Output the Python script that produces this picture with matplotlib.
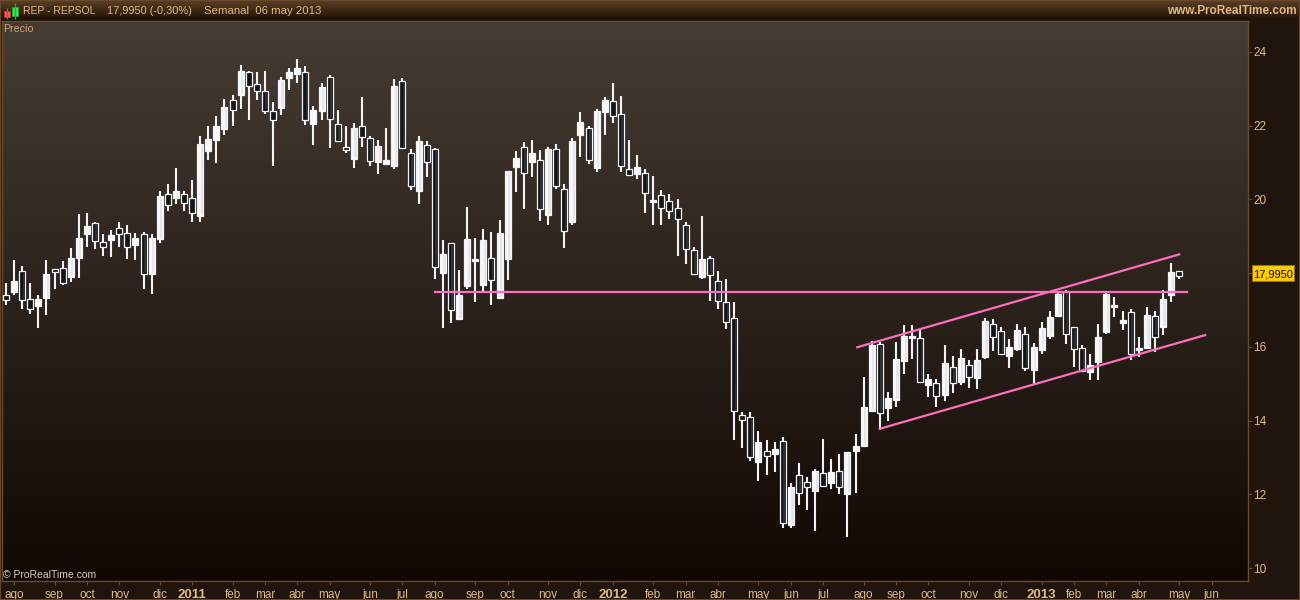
import numpy as np
import matplotlib
matplotlib.use("Agg")
import matplotlib.pyplot as plt
from matplotlib.colors import LinearSegmentedColormap
from matplotlib.patches import Rectangle

plt.rcParams["font.family"] = ["Liberation Sans", "DejaVu Sans"]

# --- Data (weekly candles) ---
opens = [17.40, 17.49, 18.05, 17.29, 17.11, 17.33, 18.10, 18.13, 17.90, 18.42,
         19.06, 19.35, 18.84, 18.90, 19.22, 19.08, 18.76, 19.05, 17.98, 18.93,
         20.16, 20.04, 20.14, 20.03, 19.55, 21.31, 21.61, 21.91, 22.69, 22.83,
         23.47, 23.12, 22.93, 22.39, 22.48, 23.29, 23.40, 23.45, 22.05, 22.40,
         23.31, 22.04, 21.41, 21.11, 21.98, 21.66, 21.02, 20.96, 20.91, 23.20,
         21.25, 20.23, 21.49, 21.36, 18.01, 18.81, 16.75, 17.65, 18.33, 17.68,
         18.40, 17.32, 18.38, 20.88, 21.41, 21.01, 21.06, 19.58, 21.38, 20.27,
         19.39, 21.75, 21.95, 20.85, 22.37, 22.66, 22.33, 20.82, 20.69, 20.73,
         19.93, 20.11, 19.97, 19.78, 19.32, 18.62, 17.89, 18.40, 17.80, 17.21,
         16.78, 14.15, 14.09, 12.88, 13.17, 13.10, 13.44, 11.17, 12.52, 12.33,
         12.09, 12.57, 12.31, 12.63, 12.01, 13.18, 13.31, 14.26, 16.07, 14.34,
         14.56, 15.62, 16.24, 16.23, 14.97, 15.01, 14.69, 15.45, 15.05, 15.50,
         15.16, 15.73, 16.61, 16.42, 15.75, 15.94, 16.34, 15.37, 15.92, 16.30,
         16.84, 17.49, 16.53, 15.96, 15.32, 15.59, 16.40, 17.08, 16.65, 16.96,
         15.92, 15.97, 16.83, 16.54, 17.41, 18.05]
highs = [17.72, 18.36, 18.19, 17.72, 17.41, 18.36, 18.10, 18.33, 18.68, 19.60,
         19.62, 19.39, 19.06, 19.17, 19.38, 19.31, 19.09, 19.13, 19.06, 20.23,
         20.42, 20.85, 20.23, 20.53, 21.72, 21.99, 22.26, 22.72, 22.83, 23.65,
         23.48, 23.46, 23.48, 22.64, 23.32, 23.56, 23.81, 23.62, 22.53, 23.15,
         23.38, 22.43, 21.99, 22.07, 22.78, 21.72, 21.61, 21.94, 23.27, 23.29,
         21.37, 21.72, 21.58, 21.39, 18.90, 18.83, 18.08, 19.79, 18.95, 19.20,
         19.12, 19.44, 20.77, 21.31, 21.56, 21.61, 21.34, 21.42, 21.50, 20.42,
         21.67, 22.37, 21.99, 22.45, 22.78, 23.16, 22.80, 21.61, 21.20, 20.82,
         20.63, 20.25, 20.15, 20.01, 19.39, 18.71, 19.55, 18.46, 18.06, 17.84,
         17.22, 14.24, 14.24, 13.72, 13.48, 13.42, 13.56, 12.31, 12.85, 12.47,
         12.69, 13.50, 12.96, 13.10, 13.15, 13.64, 15.19, 16.16, 16.14, 14.78,
         16.14, 16.59, 16.59, 16.46, 15.26, 15.13, 16.05, 15.75, 15.94, 15.64,
         15.94, 16.78, 16.76, 16.54, 16.21, 16.62, 16.54, 16.11, 16.68, 16.97,
         17.49, 17.54, 16.54, 16.05, 15.81, 16.62, 17.49, 17.35, 16.97, 17.03,
         16.27, 17.08, 16.97, 17.54, 18.28, 18.05]
lows = [17.14, 17.41, 17.03, 16.89, 16.51, 16.86, 17.57, 17.68, 17.76, 17.87,
        18.71, 18.65, 18.46, 18.44, 18.71, 18.38, 18.36, 17.57, 17.43, 18.82,
        19.69, 19.88, 19.69, 19.39, 19.39, 21.07, 20.99, 21.75, 21.99, 22.45,
        22.15, 22.70, 22.32, 20.91, 22.29, 22.97, 23.16, 22.02, 21.48, 22.15,
        21.39, 21.56, 21.27, 20.85, 21.42, 20.91, 20.69, 20.93, 20.83, 21.37,
        20.26, 19.88, 20.61, 17.84, 16.51, 16.65, 16.73, 17.57, 17.22, 17.50,
        17.13, 17.32, 17.81, 20.20, 19.74, 20.61, 19.41, 19.30, 20.28, 18.68,
        19.30, 21.15, 20.96, 20.74, 21.75, 22.07, 20.74, 20.67, 20.55, 19.63,
        19.30, 19.30, 19.47, 18.46, 18.25, 17.98, 17.84, 17.24, 17.03, 16.48,
        13.48, 13.26, 12.91, 12.36, 12.53, 12.61, 11.09, 11.09, 11.71, 11.58,
        11.01, 12.23, 12.15, 12.01, 10.85, 12.04, 13.29, 14.26, 13.75, 13.99,
        14.37, 15.26, 15.67, 15.06, 14.64, 14.37, 14.53, 14.75, 14.97, 14.88,
        14.86, 15.67, 15.89, 15.78, 15.43, 15.89, 15.35, 14.99, 15.81, 16.21,
        16.81, 16.08, 15.45, 15.32, 15.10, 15.10, 16.35, 16.81, 16.46, 15.64,
        15.73, 15.94, 15.86, 16.32, 17.22, 17.84]
closes = [17.28, 17.79, 17.26, 17.04, 17.30, 17.98, 18.04, 17.74, 18.41, 18.95,
          19.28, 18.88, 18.72, 19.03, 19.07, 18.72, 18.95, 17.99, 18.95, 20.09,
          19.86, 20.23, 19.91, 19.64, 21.50, 21.64, 21.99, 22.51, 22.43, 23.48,
          23.09, 22.95, 22.41, 22.16, 23.24, 23.46, 23.57, 22.16, 22.43, 23.05,
          22.19, 21.58, 21.35, 21.94, 21.70, 21.05, 21.45, 21.07, 23.08, 21.39,
          20.37, 21.58, 21.02, 18.17, 18.52, 17.01, 17.41, 18.93, 18.38, 18.90,
          17.82, 19.09, 20.77, 21.12, 20.71, 21.26, 19.73, 21.37, 20.37, 19.15,
          21.58, 22.10, 21.08, 22.40, 22.70, 22.27, 20.91, 20.67, 20.88, 20.18,
          19.98, 19.78, 19.69, 19.48, 18.66, 17.98, 18.38, 17.96, 17.25, 16.68,
          14.25, 14.03, 13.02, 13.42, 13.05, 13.23, 11.23, 12.20, 12.05, 12.21,
          12.64, 12.24, 12.61, 12.21, 13.15, 13.31, 14.37, 16.05, 14.22, 14.62,
          15.67, 16.30, 16.30, 15.06, 15.13, 14.68, 15.56, 15.03, 15.70, 15.17,
          15.64, 16.70, 16.28, 15.82, 16.00, 16.46, 15.44, 16.00, 16.51, 16.81,
          17.44, 16.36, 15.95, 15.35, 15.51, 16.27, 17.44, 17.14, 16.73, 15.81,
          15.97, 16.87, 16.28, 17.30, 18.03, 17.93]

# trend lines as (candle index, price)
support_x = [53.0, 146.0]
support_y = [17.49, 17.49]
upper_x = [105.2, 145.0]
upper_y = [15.99, 18.51]
lower_x = [108.0, 148.2]
lower_y = [13.78, 16.32]

price_ticks = [10, 12, 14, 16, 18, 20, 22, 24]
# the 18 label sits behind the last price box
price_labels = ["10", "12", "14", "16", "", "20", "22", "24"]
last_price = 17.995
date_pos = [1, 6, 10, 14, 19, 23, 28, 32, 36, 40, 45, 49, 53, 58, 62, 67, 71, 75,
            80, 84, 88, 93, 97, 101, 106, 110, 114, 119, 123, 128, 132, 136, 140,
            145, 149]
date_labels = ["ago", "sep", "oct", "nov", "dic", "2011", "feb", "mar", "abr", "may",
               "jun", "jul", "ago", "sep", "oct", "nov", "dic", "2012", "feb", "mar",
               "abr", "may", "jun", "jul", "ago", "sep", "oct", "nov", "dic", "2013",
               "feb", "mar", "abr", "may", "jun"]

# --- Colours ---
tan = "#e0b986"
frame = "#6a4a2c"
pink = "#ff6ebd"

W, H = 1300, 600


def px_box(x0, y0, x1, y1):
    # pixel box (y from the top) to figure coordinates
    return [x0 / W, 1 - y1 / H, (x1 - x0) / W, (y1 - y0) / H]


def gradient(ax, top, bottom):
    cmap = LinearSegmentedColormap.from_list("g", [top, bottom])
    ax.imshow(np.linspace(0, 1, 256).reshape(-1, 1), cmap=cmap, aspect="auto",
              extent=(0, 1, 0, 1), transform=ax.transAxes, zorder=0)


fig = plt.figure(figsize=(13, 6), dpi=100, facecolor="#1f150c")

# header bar
head = fig.add_axes(px_box(0, 0, W, 20))
gradient(head, "#5d4125", "#1e1006")
head.axis("off")

# --- Price panel ---
ax = fig.add_axes(px_box(2, 21, 1248, 581))
gradient(ax, "#463c33", "#110804")
ax.set_xlim(-0.49, 153.5)
ax.set_ylim(9.65, 24.84)

xs = np.arange(len(opens))
ax.vlines(xs, lows, highs, color="#f2f3f6", lw=1.5, zorder=2)
for x, o, c in zip(xs, opens, closes):
    up = c >= o
    bottom = min(o, c)
    height = max(abs(c - o), 0.06)
    ax.add_patch(Rectangle((x - 0.37, bottom), 0.74, height,
                           facecolor="#f8f8fa" if up else "#141517",
                           edgecolor="#f2f3f6", lw=0.9, zorder=3))
    # bodies get a little lighter or greyer towards the right edge
    if height > 0.4:
        ax.add_patch(Rectangle((x + 0.05, bottom + 0.03), 0.28, height - 0.06,
                               facecolor="#e6e7ec" if up else "#2e3034",
                               edgecolor="none", zorder=3.5))

ax.plot(support_x, support_y, color=pink, lw=1.6, zorder=4)
ax.plot(upper_x, upper_y, color=pink, lw=1.6, zorder=4)
ax.plot(lower_x, lower_y, color=pink, lw=1.6, zorder=4)

ax.yaxis.tick_right()
ax.set_yticks(price_ticks)
ax.set_yticklabels(price_labels)
ax.set_xticks(date_pos)
ax.set_xticklabels(date_labels)
ax.tick_params(axis="y", length=3, width=0.8, color=frame, labelcolor=tan, labelsize=8.5, pad=0.8)
ax.tick_params(axis="x", length=3, width=0.8, color=frame, labelcolor=tan, labelsize=8.5, pad=2.8)
for label in ax.get_xticklabels():
    if label.get_text().isdigit():
        label.set_fontweight("bold")
        label.set_fontsize(9.5)
for side in ax.spines.values():
    side.set_color(frame)
    side.set_linewidth(1)

# last price box, to the right of the panel
ytrans = ax.get_yaxis_transform()
ax.add_patch(Rectangle((1 + 4 / 1246, last_price - 0.217), 42 / 1246, 0.434, transform=ytrans,
                       facecolor="#ffcc00", edgecolor="#8a7030", lw=0.8, clip_on=False, zorder=6))
ax.text(1 + 25 / 1246, last_price, "17,9950", transform=ytrans, ha="center", va="center_baseline",
        color="#1a1206", fontsize=8, zorder=7, clip_on=False)

# --- Header and captions ---
fig.text(23 / W, 1 - 10.5 / H, "REP - REPSOL", color=tan, fontsize=7.5, va="center")
fig.text(107 / W, 1 - 10.5 / H, "17,9950 (-0,30%)", color=tan, fontsize=7.9, va="center")
fig.text(204 / W, 1 - 10.5 / H, "Semanal  06 may 2013", color=tan, fontsize=8.2, va="center")
fig.text(1297 / W, 1 - 10.5 / H, "www.ProRealTime.com", color=tan, fontsize=8.5, va="center",
         ha="right", fontweight="bold")
fig.text(3 / W, 1 - 28.5 / H, "Precio", color="#d0a878", fontsize=7.7, va="center")
fig.text(3 / W, 1 - 575 / H, "© ProRealTime.com", color="#d8cdb8", fontsize=7.5, va="center")

# small candle icon in the header
icon = fig.add_axes(px_box(0, 0, 20, 20))
icon.set_xlim(0, 20)
icon.set_ylim(20, 0)
icon.axis("off")
icon.vlines([6.5, 14.5], [8, 3], [19, 19], colors=["#e04040", "#20b030"], lw=1)
icon.add_patch(Rectangle((3.5, 10.5), 6, 6, facecolor="#f06060", edgecolor="#c03030", lw=0.7))
icon.add_patch(Rectangle((11.5, 6.5), 6, 9, facecolor="#40e850", edgecolor="#20a030", lw=0.7))

# outer frame
fig.add_artist(Rectangle((0, 0), 1, 1, transform=fig.transFigure, fill=False,
                         edgecolor=frame, lw=1.4))

fig.savefig("out.png", dpi=100, facecolor=fig.get_facecolor())
